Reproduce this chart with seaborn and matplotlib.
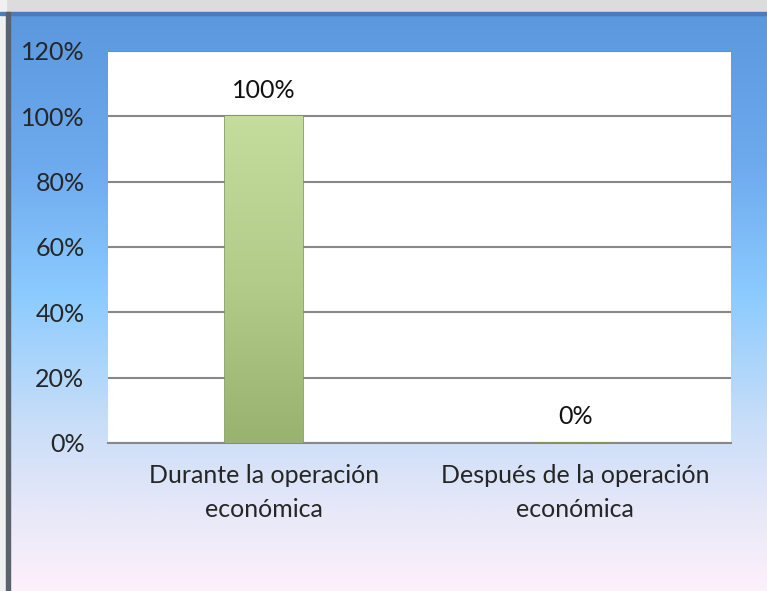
import numpy as np
import pandas as pd
import seaborn as sns
import matplotlib.pyplot as plt
from matplotlib.colors import LinearSegmentedColormap
from matplotlib.patches import Rectangle

# data
categories = ['Durante la operación\neconómica', 'Después de la operación\neconómica']
values = [100, 0]
labels = ['100%', '0%']
yticks = [0, 20, 40, 60, 80, 100, 120]

df = pd.DataFrame({'cat': categories, 'val': values})

sns.set_theme(style='white')
plt.rcParams['font.family'] = ['Lato', 'DejaVu Sans']

fig = plt.figure(figsize=(7.67, 5.91), dpi=100)

# background gradient for the whole chart area
bg = fig.add_axes([0, 0, 1, 1], zorder=-10)
bg.set_axis_off()
bg_cmap = LinearSegmentedColormap.from_list(
    'bg', [(0, '#5a96dc'), (0.28, '#6eaaee'), (0.5, '#8ccbff'),
           (0.72, '#c9def8'), (0.88, '#eae9f8'), (1, '#fdf1fb')])
grad = np.linspace(0, 1, 256).reshape(-1, 1)
bg.imshow(grad, aspect='auto', cmap=bg_cmap, extent=[0, 1, 0, 1], origin='upper')
bg.set_xlim(0, 1)
bg.set_ylim(0, 1)
# top shadow strip
bg.add_patch(Rectangle((0, 1 - 12 / 591), 1, 12 / 591, color='#dcdcdc', zorder=2))
bg.add_patch(Rectangle((0, 1 - 15 / 591), 1, 3 / 591, color='#4a7cb8', zorder=3))
# left frame
bg.add_patch(Rectangle((0, 0), 6 / 767, 1, color='#f0f0f0', zorder=2))
bg.add_patch(Rectangle((6 / 767, 0), 4 / 767, 1 - 12 / 591, color='#5a626c', zorder=3))

ax = fig.add_axes([108 / 767, 1 - 443 / 591, (731 - 108) / 767, (443 - 51) / 591])
ax.set_facecolor('white')

sns.barplot(data=df, x='cat', y='val', ax=ax, width=0.25,
            color='#a9c47f', edgecolor='#7f9a5a', linewidth=1.2, zorder=3)

# vertical green gradient on the bar
bar_cmap = LinearSegmentedColormap.from_list('bar', ['#c5dd9c', '#b3cc8a', '#99b270'])
for p in ax.patches:
    if p.get_height() > 0:
        x0, w, h = p.get_x(), p.get_width(), p.get_height()
        im = ax.imshow(grad, aspect='auto', cmap=bar_cmap,
                       extent=[x0, x0 + w, 0, h], origin='upper', zorder=3.5)
        im.set_clip_path(p)

ax.set_xlim(-0.5, 1.5)
ax.set_ylim(0, 120)
ax.set_yticks(yticks)
ax.set_yticklabels([f'{t}%' for t in yticks], fontsize=18)
ax.tick_params(axis='y', length=8, color='#888888', width=1.5, pad=9)
ax.tick_params(axis='x', length=0, pad=15)
ax.set_xticks(range(len(categories)))
ax.set_xticklabels(categories, fontsize=18, linespacing=1.6)
ax.yaxis.grid(True, color='#888888', linewidth=1.5, zorder=0)
ax.set_axisbelow(True)
ax.set_xlabel('')
ax.set_ylabel('')
for s in ['top', 'right', 'left']:
    ax.spines[s].set_visible(False)
ax.spines['bottom'].set_color('#888888')
ax.spines['bottom'].set_linewidth(1.5)

for i, (v, lab) in enumerate(zip(values, labels)):
    ax.text(i, v + 8, lab, ha='center', va='center', fontsize=18, color='#111111')

fig.savefig('out.png', dpi=100)
